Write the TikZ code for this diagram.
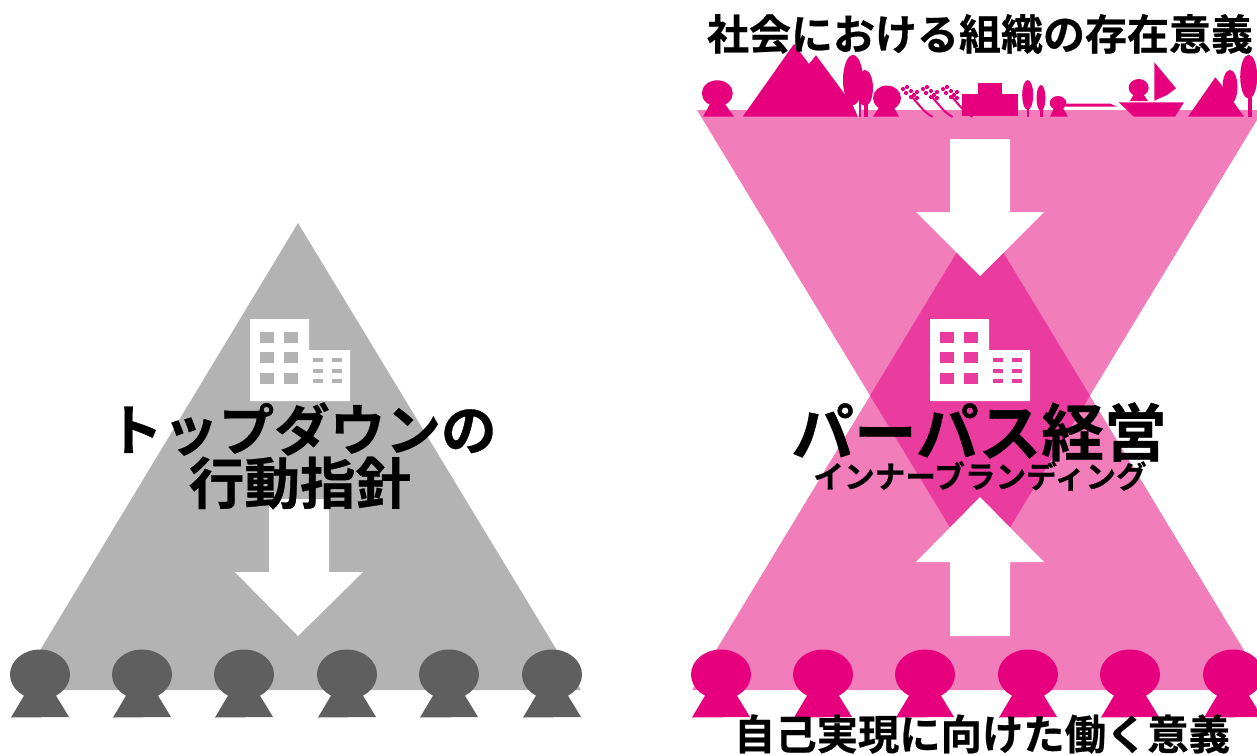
\documentclass[tikz,border=0pt]{standalone}
\usepackage{fontspec}
\newfontfamily\cjk{Noto Sans CJK JP}[BoldFont={Noto Sans CJK JP Bold},BoldFeatures={FakeBold=0.6}]
\definecolor{pinktri}{HTML}{F27DBB}
\definecolor{pinkmid}{HTML}{EA3C9F}
\definecolor{pinkdark}{HTML}{E6007E}
\definecolor{graytri}{HTML}{B3B3B3}
\definecolor{graydark}{HTML}{5F5F5F}
\tikzset{
  label30/.style={inner sep=0pt,text=black,font=\cjk\bfseries\fontsize{31.5}{34}\selectfont},
  label31/.style={inner sep=0pt,text=black,font=\cjk\bfseries\fontsize{31}{34}\selectfont},
  label42/.style={inner sep=0pt,text=black,font=\cjk\bfseries\fontsize{41.7}{44}\selectfont},
  label47/.style={inner sep=0pt,text=black,font=\cjk\bfseries\fontsize{47}{50}\selectfont},
  label23/.style={inner sep=0pt,text=black,font=\cjk\bfseries\fontsize{23}{25}\selectfont},
  scene/.style={fill=pinkdark,draw=none},
  arrowshape/.style={fill=white,draw=none},
  stem/.style={draw=pinkdark,line width=1.5pt,line cap=round},
  pics/person/.style={code={
    \fill[#1] (0,-0.5) ellipse [x radius=30,y radius=25];
    \fill[#1] (-15,19) -- (15,19) -- (29,42) -- (-29,42.5) -- cycle;
  }},
  pics/office/.style={code={
    \fill[white] (0,0) rectangle (59,82) (59,31) rectangle (100,82);
    \foreach \wx in {10,34}\foreach \wy in {13,33,54}
      \fill[#1] (\wx,\wy) rectangle ++(14,10.5);
    \foreach \wx in {63,82}\foreach \wy in {39,50,60}
      \fill[#1] (\wx,\wy) rectangle ++(10,4.3);
  }}
}
\begin{document}
\begin{tikzpicture}[x=0.75pt,y=-0.75pt]
\useasboundingbox (0,0) rectangle (1257,754);
\clip (0,0) rectangle (1257,754);
% left pyramid
\fill[graytri] (298,223) -- (16,690) -- (581,690) -- cycle;
\fill[arrowshape] (269,499) -- (329,499) -- (329,572) -- (363,572) -- (298,636) -- (235,572) -- (269,572) -- cycle;
\pic at (250,319) {office=graytri};
\foreach \px in {40,142,244,347,449,552}
  \pic at (\px,675) {person=graydark};
% right hourglass
\fill[pinktri] (697,110) -- (1263,110) -- (980,577) -- cycle;
\fill[pinktri] (980,214) -- (692,690) -- (1268,690) -- cycle;
\begin{scope}
  \clip (697,110) -- (1263,110) -- (980,577) -- cycle;
  \fill[pinkmid] (980,214) -- (692,690) -- (1268,690) -- cycle;
\end{scope}
\fill[arrowshape] (950,139) -- (1010,139) -- (1010,212) -- (1044,212) -- (980,276) -- (916,212) -- (950,212) -- cycle;
\fill[arrowshape] (950,636) -- (1010,636) -- (1010,562) -- (1044,562) -- (980,497) -- (916,562) -- (950,562) -- cycle;
\pic at (930,319) {office=pinkmid};
\foreach \px in {721,823,925,1028,1130,1233}
  \pic at (\px,675) {person=pinkdark};
% scene along the top
\fill[scene] (717.3,93.3) ellipse [x radius=15.5,y radius=13];
\fill[scene] (710,104) -- (725,104) -- (734,116.7) -- (703,116.7) -- cycle;
\fill[scene] (742.7,116.7) -- (794,44) -- (809,64) -- (816,55.3) -- (852.7,105) -- (858,116.7) -- cycle;
\fill[white] (851,100) -- (861,100) -- (861,116.7) -- (858,116.7) -- cycle;
\fill[scene] (853,80) ellipse [x radius=10,y radius=25];
\fill[scene] (865,88) ellipse [x radius=8,y radius=18];
\fill[scene] (858.5,95) rectangle (861,116.7);
\fill[scene] (864,95) rectangle (868,116.7);
\fill[scene] (887,98) ellipse [x radius=14,y radius=12.5];
\fill[scene] (880,106) -- (893,106) -- (899,116.7) -- (873,116.7) -- cycle;
\foreach \rx in {0,20,40}{
  \draw[stem] (912+\rx,97) .. controls (920+\rx,106) and (925+\rx,113) .. (932+\rx,116.5);
  \foreach \dx/\dy in {-5/-4,-1/-6,-2/0,3/-2,6/2,3/4,9/-1,9/5}
    \fill[pinkdark] (908+\rx+\dx,93+\dy) circle [radius=2.1];
}
\fill[scene] (961.7,94) rectangle (1018,116);
\fill[scene] (978,82.7) rectangle (1001.7,94);
\fill[scene] (1027.7,95) ellipse [x radius=5.5,y radius=15];
\fill[scene] (1026.5,100) rectangle (1029,116.7);
\fill[scene] (1041,98) ellipse [x radius=4.5,y radius=13];
\fill[scene] (1040,100) rectangle (1042.5,116.7);
\fill[scene] (1058,103) ellipse [x radius=8.3,y radius=7];
\fill[scene] (1054,108) -- (1063,108) -- (1068,116.7) -- (1050,116.7) -- cycle;
\fill[scene] (1066,103.5) -- (1110,103.5) -- (1117,106.7) -- (1066,106.7) -- cycle;
\fill[scene] (1118.7,102.3) -- (1184,102.3) -- (1175,116.7) -- (1134,116.7) -- cycle;
\fill[scene] (1138.7,87.7) ellipse [x radius=10,y radius=8.7];
\fill[scene] (1134,94) -- (1143,94) -- (1148,101) -- (1130,101) -- cycle;
\fill[scene] (1154.3,62.3) -- (1176,88.3) -- (1167,95) -- (1154.3,100.7) -- cycle;
\fill[scene] (1188,116.7) -- (1215.3,77.3) -- (1220,83) -- (1244,116.7) -- cycle;
\fill[scene] (1230,87) ellipse [x radius=7.5,y radius=17];
\fill[scene] (1248.7,76.7) ellipse [x radius=8.5,y radius=22];
\fill[scene] (1247.5,90) rectangle (1251.5,116.7);
% texts
\node[label30] (top) at (980,34) {社会における組織の存在意義};
\node[label31] (bottom) at (982,734) {自己実現に向けた働く意義};
\node[label42] (left1) at (302,429) {トップダウンの};
\node[label42] (left2) at (300,483) {行動指針};
\node[label47] (purpose) at (979,432) {パーパス経営};
\node[label23] (inner) at (980,476) {インナーブランディング};
\end{tikzpicture}
\end{document}
